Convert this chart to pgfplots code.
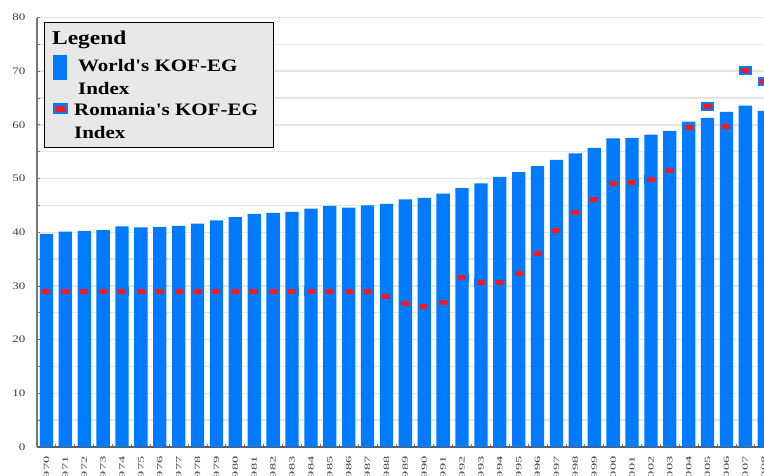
\documentclass[border=0pt]{standalone}
\usepackage{pgfplots}
\usepackage{pgfplotstable}
\pgfplotsset{compat=1.18}
\usepackage{fontspec}
\setmainfont{Liberation Serif}
\newfontfamily\legfont[FakeStretch=1.2]{Liberation Serif}
\newfontfamily\ytickfont[FakeStretch=1.3]{Liberation Serif}
\newfontfamily\xtickfont[FakeStretch=1.8]{Liberation Serif}
\definecolor{barblue}{RGB}{0,122,255}
\definecolor{romred}{RGB}{235,28,36}
\definecolor{leggray}{RGB}{232,232,232}
\definecolor{gridgray}{RGB}{228,228,228}
\definecolor{axgray}{RGB}{120,120,120}
\definecolor{lblgray}{RGB}{60,60,60}

\pgfdeclareplotmark{rom}{%
  \pgfpathrectangle{\pgfpoint{-6.5pt}{-4.5pt}}{\pgfpoint{13pt}{9pt}}%
  \pgfsetfillcolor{barblue}\pgfusepath{fill}%
  \pgfpathrectangle{\pgfpoint{-4pt}{-2.5pt}}{\pgfpoint{8pt}{5pt}}%
  \pgfsetfillcolor{romred}\pgfusepath{fill}}

\pgfplotstableread{
idx year world romania
0  1970 39.7 29.0
1  1971 40.1 28.9
2  1972 40.2 28.9
3  1973 40.4 28.9
4  1974 41.1 28.9
5  1975 40.9 29.0
6  1976 41.0 29.0
7  1977 41.2 29.0
8  1978 41.6 29.0
9  1979 42.2 29.0
10 1980 42.8 29.0
11 1981 43.4 29.0
12 1982 43.6 29.0
13 1983 43.8 29.0
14 1984 44.4 29.0
15 1985 44.9 29.0
16 1986 44.6 29.0
17 1987 45.0 29.0
18 1988 45.3 28.1
19 1989 46.1 26.8
20 1990 46.4 26.2
21 1991 47.2 26.9
22 1992 48.2 31.5
23 1993 49.1 30.6
24 1994 50.3 30.6
25 1995 51.2 32.3
26 1996 52.3 36.1
27 1997 53.5 40.4
28 1998 54.7 43.7
29 1999 55.7 46.1
30 2000 57.5 49.0
31 2001 57.6 49.2
32 2002 58.2 49.9
33 2003 58.9 51.5
34 2004 60.6 59.5
35 2005 61.3 63.4
36 2006 62.4 59.7
37 2007 63.6 70.1
38 2008 62.6 68.1
}\datatable

\begin{document}
\begin{tikzpicture}
\useasboundingbox (-37pt,-29pt) rectangle (727pt,447pt);
\clip (-37pt,-29pt) rectangle (727pt,447pt);
\begin{axis}[
  at={(0pt,0pt)}, anchor=south west,
  scale only axis, width=736.7pt, height=429.5pt,
  xmin=-0.5, xmax=38.5, ymin=0, ymax=80,
  axis lines*=left,
  x axis line style={draw=axgray!80!black, line width=1.3pt},
  y axis line style={draw=axgray, line width=1.6pt},
  ytick={0,10,...,80}, minor ytick={5,15,...,75},
  ymajorgrids, yminorgrids,
  major grid style={gridgray, line width=1.4pt},
  minor grid style={gridgray, line width=1.4pt},
  xtick={0,...,38},
  xticklabels={1970,1971,1972,1973,1974,1975,1976,1977,1978,1979,1980,1981,1982,1983,1984,1985,1986,1987,1988,1989,1990,1991,1992,1993,1994,1995,1996,1997,1998,1999,2000,2001,2002,2003,2004,2005,2006,2007,2008},
  minor xtick={0.5,1.5,...,37.5},
  major x tick style={draw=none},
  minor x tick style={draw=axgray, line width=0.8pt},
  y tick style={draw=axgray, line width=0.8pt},
  minor y tick style={draw=axgray, line width=0.8pt},
  major tick length=3pt, minor tick length=3pt,
  tick align=inside,
  /pgf/number format/assume math mode=true,
  yticklabel style={font=\ytickfont\fontsize{10}{10}\selectfont, text=lblgray},
  yticklabel shift=8pt,
  xticklabel style={font=\xtickfont\fontsize{8}{8}\selectfont, text=lblgray, rotate=90, anchor=east},
  xticklabel shift=6pt,
  legend style={at={(axis description cs:0.02104,0.91385)}, anchor=north west,
    draw=none, fill=none, inner sep=0pt, column sep=6pt, row sep=6pt,
    font=\legfont\bfseries\fontsize{17.5}{23}\selectfont,
    nodes={inner sep=1pt},
    cells={anchor=west, align=left}},
]
\addplot[ybar, bar width=13.3pt, fill=barblue, draw=none,
  legend image code/.code={\fill[barblue] (0pt,-2.5pt) rectangle (14pt,22.5pt);}]
  table[x=idx, y=world]{\datatable};
\addlegendentry{\hspace*{4pt}World's KOF-EG\\\hspace*{4pt}Index}
\addplot[only marks, mark=rom,
  legend image code/.code={\fill[barblue] (0pt,8.5pt) rectangle (14pt,18.5pt);
    \fill[romred] (3pt,11pt) rectangle (11pt,16pt);}]
  table[x=idx, y=romania]{\datatable};
\addlegendentry{Romania's KOF-EG\\Index}
\draw[fill=leggray, draw=black, line width=1pt]
  ([xshift=7pt,yshift=299pt]rel axis cs:0,0) rectangle ([xshift=236pt,yshift=424pt]rel axis cs:0,0);
\node[anchor=base west, inner sep=0pt, font=\legfont\bfseries\fontsize{19.5}{20}\selectfont]
  at ([xshift=15pt,yshift=402pt]rel axis cs:0,0) {Legend};
\end{axis}
\end{tikzpicture}
\end{document}
